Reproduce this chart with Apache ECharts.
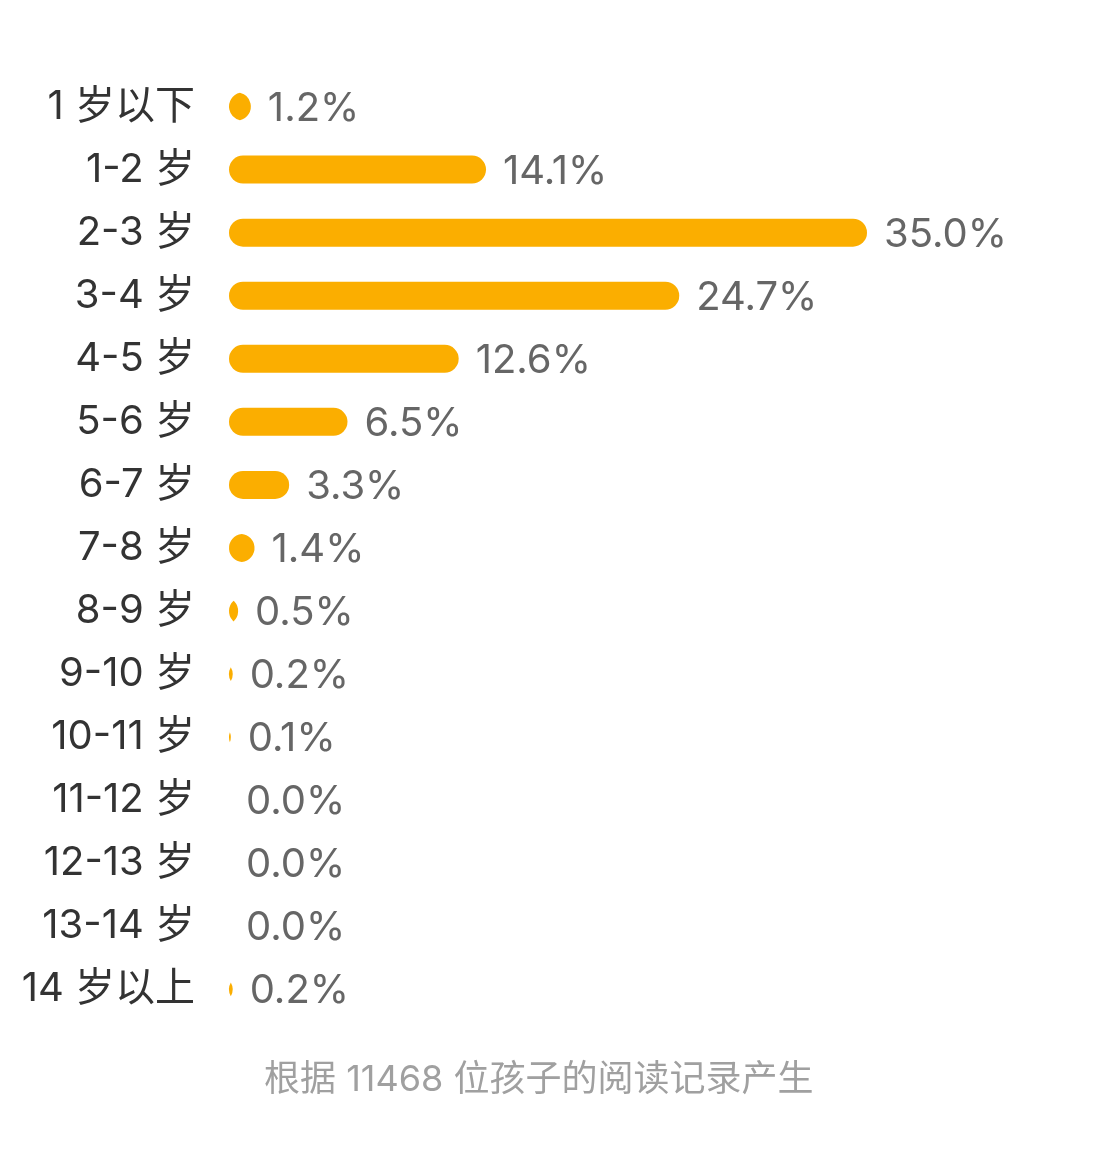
<!DOCTYPE html>
<html>
<head>
<meta charset="utf-8">
<script src="https://cdn.jsdelivr.net/npm/echarts@6/dist/echarts.min.js"></script>
<style>
  html, body { margin: 0; padding: 0; background: #fff; }
  #chart { width: 1100px; height: 1149px; }
</style>
</head>
<body>
<div id="chart"></div>
<script>
// 年龄段
const ageGroups = ['1 岁以下', '1-2 岁', '2-3 岁', '3-4 岁', '4-5 岁', '5-6 岁', '6-7 岁', '7-8 岁',
  '8-9 岁', '9-10 岁', '10-11 岁', '11-12 岁', '12-13 岁', '13-14 岁', '14 岁以上']
// 占比（%）
const shares = [1.2, 14.1, 35.0, 24.7, 12.6, 6.5, 3.3, 1.4, 0.5, 0.2, 0.1, 0.0, 0.0, 0.0, 0.2]
const footNote = '根据 11468 位孩子的阅读记录产生'

const font = 'Inter, "Noto Sans CJK SC", sans-serif'
const barColor = '#fbae00'
const barH = 28
const chart = echarts.init(document.getElementById('chart'))

// 圆角条形，很短的时候画成两段圆弧相交的形状
function renderBar(params, api) {
  const idx = api.value(1)
  const v = api.value(0)
  const p0 = api.coord([0, idx])
  const p1 = api.coord([v, idx])
  const x0 = p0[0], x1 = p1[0], y = p0[1]
  const w = x1 - x0
  const r = barH / 2
  const children = []
  if (w >= barH) {
    children.push({
      type: 'rect',
      shape: { x: x0, y: y - r, width: w, height: barH, r: r },
      style: { fill: barColor }
    })
  } else if (w > 0) {
    const d = r - w / 2
    const h = Math.sqrt(r * r - d * d)
    const mx = x0 + w / 2
    children.push({
      type: 'path',
      shape: {
        pathData: `M${mx},${y - h} A${r},${r} 0 0 0 ${mx},${y + h} A${r},${r} 0 0 0 ${mx},${y - h} Z`
      },
      style: { fill: barColor }
    })
  }
  children.push({
    type: 'text',
    style: {
      text: shares[idx].toFixed(1) + '%',
      x: x1 + 17,
      y: y + 2,
      verticalAlign: 'middle',
      fill: '#666',
      font: '40px ' + font
    }
  })
  return { type: 'group', children: children }
}

chart.setOption({
  animation: false,
  grid: { left: 229, top: 75, width: 638, height: 946 },
  title: {
    text: footNote,
    left: 259,
    top: 1057,
    textStyle: { color: '#a0a0a0', fontSize: 36, fontWeight: 'normal', fontFamily: font }
  },
  xAxis: {
    type: 'value', min: 0, max: 35, show: false
  },
  yAxis: {
    type: 'category',
    inverse: true,
    data: ageGroups,
    axisLine: { show: false },
    axisTick: { show: false },
    axisLabel: { margin: 34, color: '#333', fontSize: 40, fontFamily: font, lineHeight: 44, padding: [6, 0, 0, 0] }
  },
  series: [{
    type: 'custom',
    renderItem: renderBar,
    encode: { x: 0, y: 1 },
    data: shares.map((v, i) => [v, i])
  }]
})
</script>
</body>
</html>
